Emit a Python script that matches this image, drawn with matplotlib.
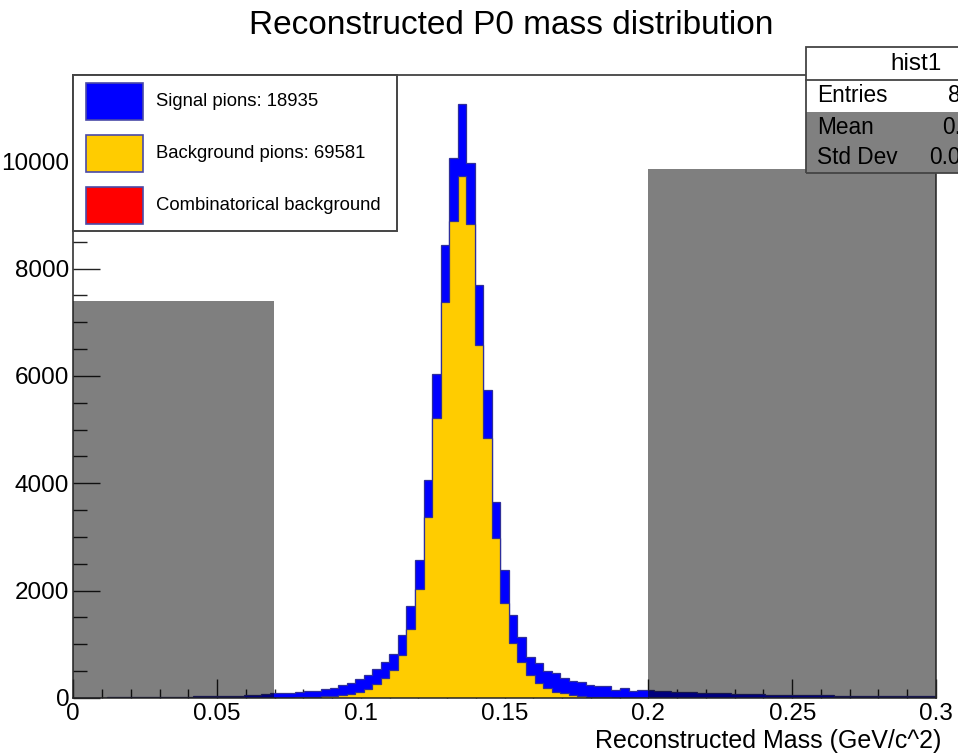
import numpy as np
import matplotlib
matplotlib.use("Agg")
import matplotlib.pyplot as plt
from matplotlib.patches import Rectangle
from matplotlib.ticker import MultipleLocator

plt.rcParams['font.family'] = ['Liberation Sans', 'DejaVu Sans']

# ---------------- data ----------------
title = "Reconstructed P0 mass distribution"
x_label = "Reconstructed Mass (GeV/c^2)"
legend_labels = ["Signal pions: 18935", "Background pions: 69581", "Combinatorical background"]
legend_colors = ["#0000ff", "#ffcc00", "#ff0000"]
n_bins = 101
mass_range = (0.0, 0.3)

# top of the stack (signal + background) per bin
total_counts = [
    5, 6, 8, 9, 10, 12, 13, 14, 16, 18,
    19, 21, 23, 25, 28, 30, 33, 36, 40, 45,
    52, 60, 72, 85, 95, 102, 110, 125, 137, 162,
    193, 236, 273, 354, 429, 535, 665, 817, 1174, 1720,
    2578, 4068, 6031, 8440, 10067, 11062, 9963, 7695, 5733, 3658,
    2385, 1546, 1130, 770, 646, 503, 460, 367, 323, 304,
    242, 224, 224, 149, 193, 137, 140, 150, 130, 122,
    118, 110, 105, 98, 92, 87, 84, 80, 76, 72,
    68, 65, 62, 60, 57, 54, 52, 50, 48, 46,
    44, 43, 42, 40, 39, 38, 37, 36, 35, 35,
    34,
]
# background pions per bin
background_counts = [
    0, 0, 0, 0, 0, 0, 0, 0, 0, 0,
    0, 0, 0, 0, 0, 0, 1, 1, 1, 2,
    2, 3, 3, 4, 5, 8, 12, 18, 25, 35,
    45, 60, 70, 118, 165, 261, 367, 522, 792, 1290,
    2025, 3372, 5217, 7378, 8893, 9726, 8826, 6577, 4839, 2976,
    1776, 1031, 677, 429, 273, 180, 118, 87, 56, 37,
    25, 18, 12, 8, 5, 3, 2, 2, 1, 1,
    0, 0, 0, 0, 0, 0, 0, 0, 0, 0,
    0, 0, 0, 0, 0, 0, 0, 0, 0, 0,
    0, 0, 0, 0, 0, 0, 0, 0, 0, 0,
    0,
]
# shaded (excluded) regions: x0, x1, height
excluded_regions = [(0.0, 0.0698, 7400), (0.2, 0.3, 9855)]

stats_title = "hist1"
stats_names = ["Entries", "Mean", "Std Dev"]
stats_values = ["88516", "0.1352", "0.02589"]

y_max = 11608

# ---------------- figure ----------------
W, H = 958, 755
fig = plt.figure(figsize=(W / 100, H / 100), dpi=100)


def fx(px):
    return px / W


def fy(py):
    return 1 - py / H


ax_l, ax_r, ax_t, ax_b = 73.3, 936.0, 75.0, 698.0
ax = fig.add_axes([fx(ax_l), fy(ax_b), fx(ax_r) - fx(ax_l), fy(ax_t) - fy(ax_b)])

edges = np.linspace(mass_range[0], mass_range[1], n_bins + 1)
total = np.array(total_counts, dtype=float)
bkg = np.array(background_counts, dtype=float)
assert len(total) == n_bins and len(bkg) == n_bins

edge_col = "#2f2f9a"
ax.stairs(total, edges, fill=True, facecolor="#0000ff", edgecolor=edge_col,
          linewidth=0.9, zorder=2)
ax.stairs(bkg, edges, fill=True, facecolor="#ffcc00", edgecolor=edge_col,
          linewidth=0.9, zorder=2.05)

for x0, x1, h in excluded_regions:
    ax.add_patch(Rectangle((x0, 0), x1 - x0, h, facecolor="black", alpha=0.5,
                           edgecolor="none", zorder=2.2))

ax.set_xlim(*mass_range)
ax.set_ylim(0, y_max)

ax.xaxis.set_major_locator(MultipleLocator(0.05))
ax.xaxis.set_minor_locator(MultipleLocator(0.01))
ax.yaxis.set_major_locator(MultipleLocator(2000))
ax.yaxis.set_minor_locator(MultipleLocator(500))
ax.xaxis.set_major_formatter(matplotlib.ticker.FuncFormatter(lambda v, p: f"{v:g}"))
ax.yaxis.set_major_formatter(matplotlib.ticker.FuncFormatter(lambda v, p: f"{v:g}"))

tick_col = "#222222"
ax.tick_params(axis="x", which="major", direction="in", length=13.7, width=1.0,
               color=tick_col, labelsize=17.5, pad=3.5, top=False)
ax.tick_params(axis="x", which="minor", direction="in", length=6.5, width=1.0,
               color=tick_col, top=False)
ax.tick_params(axis="y", which="major", direction="in", length=19.4, width=1.0,
               color=tick_col, labelsize=17.5, pad=3, right=False)
ax.tick_params(axis="y", which="minor", direction="in", length=10, width=1.0,
               color=tick_col, right=False)
for s in ax.spines.values():
    s.set_color(tick_col)
    s.set_linewidth(1.1)
    s.set_zorder(2.5)

# x label (right aligned below axis)
fig.text(fx(941), fy(741), x_label, ha="right", va="center", fontsize=18)

# title
fig.text(fx(511), fy(25), title, ha="center", va="center", fontsize=24)

# ---------------- legend ----------------
leg_x0, leg_x1, leg_y0, leg_y1 = 73.3, 397, 75, 231
fig.add_artist(Rectangle((fx(leg_x0), fy(leg_y1)), fx(leg_x1) - fx(leg_x0),
                         fy(leg_y0) - fy(leg_y1), transform=fig.transFigure,
                         facecolor="white", edgecolor="#444444", linewidth=1.4,
                         zorder=5))
sw_tops = [83, 135, 187]
for top, lab, col in zip(sw_tops, legend_labels, legend_colors):
    fig.add_artist(Rectangle((fx(86), fy(top + 37)), fx(143) - fx(86),
                             fy(top) - fy(top + 37), transform=fig.transFigure,
                             facecolor=col, edgecolor="#4a4aa8", linewidth=1.2,
                             zorder=6))
    fig.text(fx(156), fy(top + 18.5), lab, ha="left", va="center",
             fontsize=13.3, zorder=7)

# ---------------- stats box ----------------
st_x0, st_x1 = 806, 1030
st_y0, st_hdr, st_gray, st_y1 = 47, 79.5, 112, 172.5
fig.add_artist(Rectangle((fx(st_x0), fy(st_y1)), fx(st_x1) - fx(st_x0),
                         fy(st_y0) - fy(st_y1), transform=fig.transFigure,
                         facecolor="white", edgecolor="none", zorder=5))
fig.add_artist(Rectangle((fx(st_x0), fy(st_y1)), fx(st_x1) - fx(st_x0),
                         fy(st_gray) - fy(st_y1), transform=fig.transFigure,
                         facecolor="#808080", edgecolor="none", zorder=5.1))
fig.add_artist(Rectangle((fx(st_x0), fy(st_y1)), fx(st_x1) - fx(st_x0),
                         fy(st_y0) - fy(st_y1), transform=fig.transFigure,
                         facecolor="none", edgecolor="#444444", linewidth=1.3,
                         zorder=5.5))
fig.add_artist(plt.Line2D([fx(st_x0), fx(st_x1)], [fy(st_hdr), fy(st_hdr)],
                          transform=fig.transFigure, color="#444444",
                          linewidth=1.3, zorder=5.5))
fig.text(fx(916), fy(64), stats_title, ha="center", va="center", fontsize=17.5,
         zorder=6)
row_y = [96, 128, 158]
for yy, name, val in zip(row_y, stats_names, stats_values):
    fig.text(fx(817), fy(yy), name, ha="left", va="center", fontsize=16.3, zorder=6)
    fig.text(fx(1011), fy(yy), val, ha="right", va="center", fontsize=16.3, zorder=6)

fig.savefig("out.png", dpi=100)
